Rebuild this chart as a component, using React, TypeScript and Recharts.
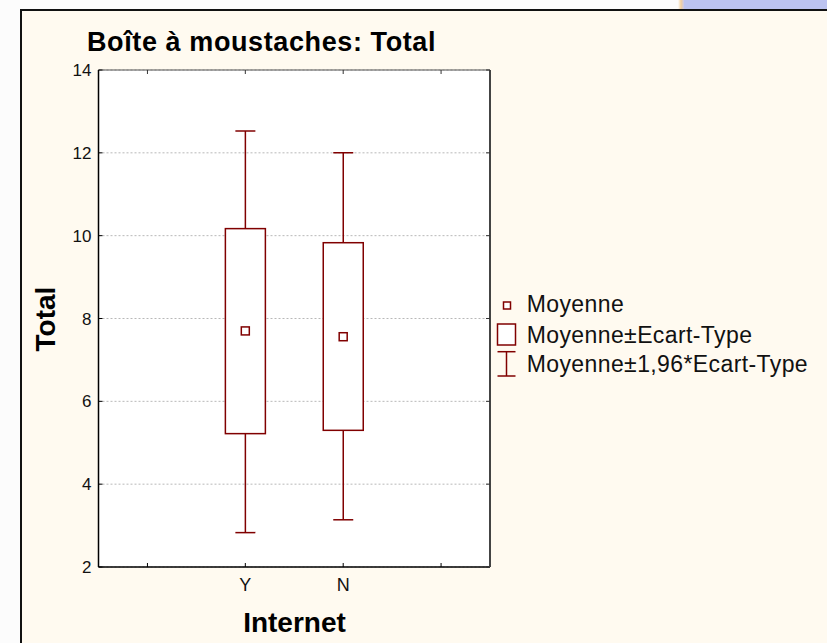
import { ComposedChart, Bar, Scatter, XAxis, YAxis, CartesianGrid, Legend } from 'recharts'

const CATEGORIES = ['', 'Y', 'N', '']
const MEANS = [null, 7.70, 7.56, null]
const BOX_LOW = [null, 5.22, 5.30, null]
const BOX_HIGH = [null, 10.17, 9.83, null]
const WHISKER_LOW = [null, 2.83, 3.14, null]
const WHISKER_HIGH = [null, 12.53, 12.0, null]
const Y_TICKS = [2, 4, 6, 8, 10, 12, 14]
const LEGEND_ITEMS = ['Moyenne', 'Moyenne±Ecart-Type', 'Moyenne±1,96*Ecart-Type']

const RED = '#800000'
const FONT = '"Liberation Sans", Arial, sans-serif'

const data = CATEGORIES.map((c, i) => ({
  cat: c,
  mean: MEANS[i],
  boxLow: BOX_LOW[i],
  boxHigh: BOX_HIGH[i],
  wLow: WHISKER_LOW[i],
  wHigh: WHISKER_HIGH[i],
}))

const BoxShape = (props: any) => {
  const { x, y, width, height, payload } = props
  if (payload.wLow == null) return null
  const top = Math.min(y, y + height)
  const h = Math.abs(height)
  const ppu = h / (payload.wHigh - payload.wLow)
  const cx = x + width / 2
  const bTop = top + (payload.wHigh - payload.boxHigh) * ppu
  const bBot = top + (payload.wHigh - payload.boxLow) * ppu
  const cap = width / 4
  return (
    <g stroke={RED} strokeWidth={1.5} fill="none">
      <line x1={cx} x2={cx} y1={top} y2={top + h} />
      <line x1={cx - cap} x2={cx + cap} y1={top} y2={top} />
      <line x1={cx - cap} x2={cx + cap} y1={top + h} y2={top + h} />
      <rect x={x} y={bTop} width={width} height={bBot - bTop} fill="#fff" />
    </g>
  )
}

const MeanShape = (props: any) => {
  const { cx, cy, payload } = props
  if (payload == null || payload.mean == null || !isFinite(cy)) return null
  return <rect x={cx - 4} y={cy - 4} width={8} height={8} fill="#fff" stroke={RED} strokeWidth={1.5} />
}

const BottomTick = ({ x, y, payload }: any) => (
  <g>
    <line x1={x} x2={x} y1={y} y2={y - 4} stroke="#000" />
    {payload.value ? (
      <text x={x} y={y + 24} textAnchor="middle" fontSize={18} fontFamily={FONT} fill="#111">{payload.value}</text>
    ) : null}
  </g>
)

const TopTick = ({ x, y }: any) => <line x1={x} x2={x} y1={y} y2={y + 4} stroke="#333" />

const LeftTick = ({ x, y, payload }: any) => (
  <g>
    <line x1={x} x2={x + 4} y1={y} y2={y} stroke="#000" />
    <text x={x - 7} y={y + 6} textAnchor="end" fontSize={17} fontFamily={FONT} fill="#111">{payload.value}</text>
  </g>
)

const RightTick = ({ x, y }: any) => <line x1={x - 4} x2={x} y1={y} y2={y} stroke="#333" />

const LegendBox = () => (
  <svg width={330} height={95} style={{ overflow: 'visible' }}>
    <rect x={8.5} y={12} width={7} height={7} fill="#fff" stroke={RED} strokeWidth={1.5} />
    <rect x={2.5} y={34} width={18} height={21} fill="#fff" stroke={RED} strokeWidth={1.5} />
    <g stroke={RED} strokeWidth={1.5}>
      <line x1={11.5} x2={11.5} y1={61.7} y2={86} />
      <line x1={2.5} x2={20.5} y1={61.7} y2={61.7} />
      <line x1={2.5} x2={20.5} y1={86} y2={86} />
    </g>
    {LEGEND_ITEMS.map((t, i) => (
      <text key={t} x={31.7} y={[21.7, 53.3, 81.7][i]} fontSize={23} letterSpacing={0.4} fontFamily={FONT} fill="#111">{t}</text>
    ))}
  </svg>
)

export default function App() {
  return (
    <div style={{ position: 'absolute', left: 0, top: 0, width: 827, height: 643, overflow: 'hidden', background: '#FCFCFC' }}>
      <div style={{ position: 'absolute', left: 678, top: 0, width: 6, height: 10, background: 'linear-gradient(to right, #FCFCFC, #F3CF9C, #C9C9EC)' }} />
      <div style={{ position: 'absolute', left: 684, top: 0, width: 143, height: 10, background: '#BCC3F0' }} />
      <div style={{ position: 'absolute', left: 20, top: 9, width: 900, height: 700, border: '2.5px solid #111', background: '#FFFAF0' }} />
      <div style={{ position: 'absolute', left: 0, top: 0 }}>
        <ComposedChart width={827} height={643} data={data} margin={{ top: 69, left: 38.5, right: 336, bottom: 46 }}>
          <CartesianGrid xAxisId="bottom" yAxisId="left" vertical={false} fill="#fff" stroke="#b8b8b8" strokeDasharray="2 2" />
          <XAxis xAxisId="bottom" dataKey="cat" orientation="bottom" height={30} interval={0} tickSize={0} tickMargin={0}
            tick={<BottomTick />} axisLine={{ stroke: '#000', strokeWidth: 1.5 }} tickLine={false} />
          <XAxis xAxisId="top" dataKey="cat" orientation="top" height={1} interval={0} tickSize={0} tickMargin={0}
            tick={<TopTick />} axisLine={{ stroke: '#555', strokeWidth: 1.2 }} tickLine={false} />
          <YAxis yAxisId="left" orientation="left" width={60} domain={[2, 14]} ticks={Y_TICKS} interval={0} tickSize={0} tickMargin={0}
            tick={<LeftTick />} axisLine={{ stroke: '#000', strokeWidth: 1.5 }} tickLine={false} allowDataOverflow />
          <YAxis yAxisId="right" orientation="right" width={1} domain={[2, 14]} ticks={Y_TICKS} interval={0} tickSize={0} tickMargin={0}
            tick={<RightTick />} axisLine={{ stroke: '#444', strokeWidth: 2 }} tickLine={false} allowDataOverflow />
          <Bar xAxisId="bottom" yAxisId="left" dataKey={(d: any) => (d.wLow == null ? null : [d.wLow, d.wHigh])}
            barSize={40} shape={<BoxShape />} isAnimationActive={false} />
          <Scatter xAxisId="bottom" yAxisId="left" dataKey="mean" shape={<MeanShape />} isAnimationActive={false} />
          <Legend layout="horizontal" verticalAlign="middle" align="center" content={<LegendBox />}
            wrapperStyle={{ left: 495, top: 290, width: 330, height: 95 }} />
        </ComposedChart>
      </div>
      <svg width={827} height={643} style={{ position: 'absolute', left: 0, top: 0, pointerEvents: 'none' }}>
        <text x={87} y={51} fontSize={27} fontWeight="bold" letterSpacing={0.6} fontFamily={FONT} fill="#000">Boîte à moustaches: Total</text>
        <text transform="translate(55,319) rotate(-90)" textAnchor="middle" fontSize={28} fontWeight="bold" fontFamily={FONT} fill="#000">Total</text>
        <text x={294.5} y={632} textAnchor="middle" fontSize={28} fontWeight="bold" fontFamily={FONT} fill="#000">Internet</text>
      </svg>
    </div>
  )
}
